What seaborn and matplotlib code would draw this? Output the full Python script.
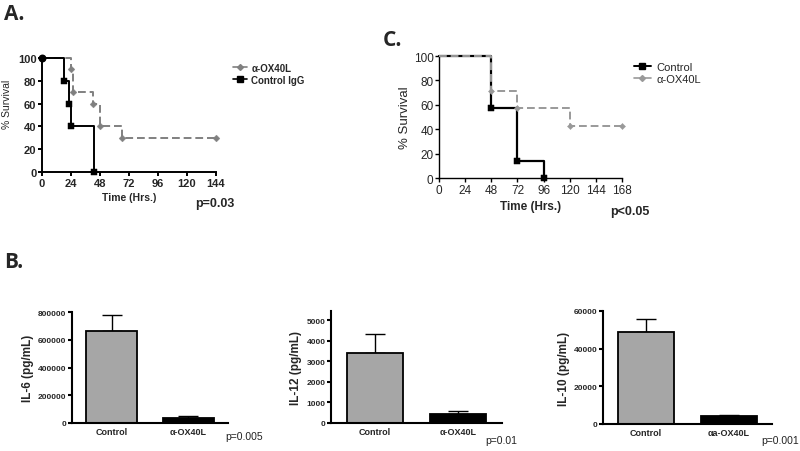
import matplotlib
matplotlib.use("Agg")
import matplotlib.pyplot as plt
import seaborn as sns
import pandas as pd

# Painel A - sobrevivência (Kaplan-Meier)
a_tempo_ox40l = [0, 24, 26, 42, 48, 66, 144]
a_surv_ox40l = [100, 90, 70, 60, 40, 30, 30]
a_tempo_ctrl = [0, 18, 22, 24, 43]
a_surv_ctrl = [100, 80, 60, 40, 0]

# Painel C - sobrevivência
c_tempo_ctrl = [0, 48, 72, 96]
c_surv_ctrl = [100, 57.1, 14.3, 0]
c_tempo_ox40l = [0, 48, 72, 120, 168]
c_surv_ox40l = [100, 71.4, 57.1, 42.9, 42.9]

# Painel B - citocinas (média e erro superior)
grupos = ["Control", "\u03b1-OX40L"]
il6_media = [665000, 35000]
il6_erro = [115000, 13000]
il12_media = [3420, 460]
il12_erro = [930, 100]
il10_media = [48700, 4200]
il10_erro = [6800, 600]

sns.set_style("white")
plt.rcParams['font.family'] = ['Liberation Sans', 'DejaVu Sans']

fig = plt.figure(figsize=(8, 4.52), dpi=100)
W, H = 800, 452


def eixo(x0, y0, x1, y1):
    return fig.add_axes([x0 / W, 1 - y1 / H, (x1 - x0) / W, (y1 - y0) / H])


def estilo(ax, lw):
    sns.despine(ax=ax)
    for s in ["left", "bottom"]:
        ax.spines[s].set_linewidth(lw)
        ax.spines[s].set_color("black")
    ax.tick_params(direction="out", length=3, width=lw, color="black",
                   left=True, bottom=True, pad=1)


def km(ax, t, s, cor, ls, mk, ms, lw, z):
    df = pd.DataFrame({"t": t, "s": s})
    sns.lineplot(data=df, x="t", y="s", ax=ax, color=cor, linestyle=ls,
                 drawstyle="steps-post", linewidth=lw, clip_on=False, zorder=z)
    sns.scatterplot(data=df.iloc[1:], x="t", y="s", ax=ax, color=cor,
                    marker=mk, s=ms, edgecolor=cor, clip_on=False, zorder=z + 1)


# ---------- Painel A ----------
axA = eixo(42, 59, 216, 173)
km(axA, a_tempo_ox40l, a_surv_ox40l, "#808080", (0, (4, 2)), "D", 12, 1.4, 2)
km(axA, a_tempo_ctrl, a_surv_ctrl, "black", "-", "s", 18, 1.4, 3)
axA.scatter([0], [100], color="black", s=22, zorder=6, clip_on=False)
axA.set_xlim(0, 144)
axA.set_ylim(0, 100)
axA.set_xticks(range(0, 145, 24))
axA.set_yticks(range(0, 101, 20))
estilo(axA, 1.4)
for lb in axA.get_xticklabels() + axA.get_yticklabels():
    lb.set_fontsize(8)
    lb.set_fontweight("bold")
axA.set_xlabel("Time (Hrs.)", fontsize=7.5, fontweight="bold", labelpad=3)
axA.set_ylabel("% Survival", fontsize=7.5, labelpad=2)
axA.yaxis.set_label_coords(-0.17, 0.6)
hA = [plt.Line2D([], [], color="#808080", marker="D", ms=3, lw=1.2),
      plt.Line2D([], [], color="black", marker="s", ms=4, lw=1.2)]
fig.legend(hA, ["\u03b1-OX40L", "Control IgG"], loc="upper left",
           bbox_to_anchor=(224 / W, 1 - 55 / H), frameon=False,
           prop={"size": 7, "weight": "bold"}, handlelength=1.5,
           handletextpad=0.4, labelspacing=0.2)
fig.text(195 / W, 1 - 204 / H, "p=0.03", fontsize=9, fontweight="bold",
         va="center")

# ---------- Painel C ----------
axC = eixo(439, 57, 622, 179)
km(axC, c_tempo_ctrl, c_surv_ctrl, "black", "-", "s", 20, 1.6, 2)
km(axC, c_tempo_ox40l, c_surv_ox40l, "#999999", (0, (4, 2)), "D", 10, 1.4, 4)
axC.set_xlim(0, 168)
axC.set_ylim(0, 100)
axC.set_xticks(range(0, 169, 24))
axC.set_yticks(range(0, 101, 20))
estilo(axC, 1.0)
for lb in axC.get_xticklabels() + axC.get_yticklabels():
    lb.set_fontsize(8.5)
axC.set_xlabel("Time (Hrs.)", fontsize=8.5, fontweight="bold", labelpad=3)
axC.set_ylabel("% Survival", fontsize=9.5, labelpad=2)
hC = [plt.Line2D([], [], color="black", marker="s", ms=4, lw=1.4),
      plt.Line2D([], [], color="#999999", marker="D", ms=3, lw=1.2)]
fig.legend(hC, ["Control", "\u03b1-OX40L"], loc="upper left",
           bbox_to_anchor=(624 / W, 1 - 53 / H), frameon=False,
           prop={"size": 8}, handlelength=1.5, handletextpad=0.5,
           labelspacing=0.2)
fig.text(610 / W, 1 - 212 / H, "p<0.05", fontsize=9, fontweight="bold",
         va="center")


# ---------- Painel B ----------
def barras(ax, medias, erros, ylim, yticks, ylab, rotulos):
    df = pd.DataFrame({"g": grupos, "v": medias})
    sns.barplot(data=df, x="g", y="v", hue="g", ax=ax,
                palette=["#a6a6a6", "black"], width=0.67, edgecolor="black",
                linewidth=1.3, legend=False, errorbar=None)
    ax.errorbar([0, 1], medias, yerr=[[0, 0], erros], fmt="none",
                ecolor="black", elinewidth=1.0, capsize=7, capthick=1.0,
                zorder=0)
    ax.set_xlim(-0.52, 1.52)
    ax.set_ylim(*ylim)
    ax.set_yticks(yticks)
    estilo(ax, 1.5)
    ax.tick_params(axis="x", length=0, pad=3)
    ax.set_xticks([0, 1])
    ax.set_xticklabels(rotulos, fontsize=6.5, fontweight="bold")
    for lb in ax.get_yticklabels():
        lb.set_fontsize(6)
        lb.set_fontweight("bold")
    ax.set_xlabel("")
    ax.set_ylabel(ylab, fontsize=8.5, fontweight="bold", labelpad=3)


axB1 = eixo(72, 313, 228, 424)
barras(axB1, il6_media, il6_erro, (0, 800000), range(0, 800001, 200000),
       "IL-6 (pg/mL)", grupos)
axB2 = eixo(331, 312, 502, 424)
barras(axB2, il12_media, il12_erro, (0, 5450), range(0, 5001, 1000),
       "IL-12 (pg/mL)", grupos)
axB3 = eixo(603, 312, 772, 425)
barras(axB3, il10_media, il10_erro, (0, 60000), range(0, 60001, 20000),
       "IL-10 (pg/mL)", ["Control", "\u03b1a-OX40L"])

fig.text(225 / W, 1 - 437 / H, "p=0.005", fontsize=7.5, color="#222222",
         va="center")
fig.text(485 / W, 1 - 441 / H, "p=0.01", fontsize=7.5, color="#222222",
         va="center")
fig.text(761 / W, 1 - 441 / H, "p=0.001", fontsize=7.5, color="#222222",
         va="center")

# rótulos dos painéis
rot = {"family": ["Open Sans", "DejaVu Sans"], "fontsize": 15,
       "fontweight": "bold", "va": "center"}
fig.text(4 / W, 1 - 14 / H, "A.", **rot)
fig.text(383 / W, 1 - 40 / H, "C.", **rot)
fig.text(4 / W, 1 - 263 / H, "B.", **rot)

fig.savefig("out.png", dpi=100)
